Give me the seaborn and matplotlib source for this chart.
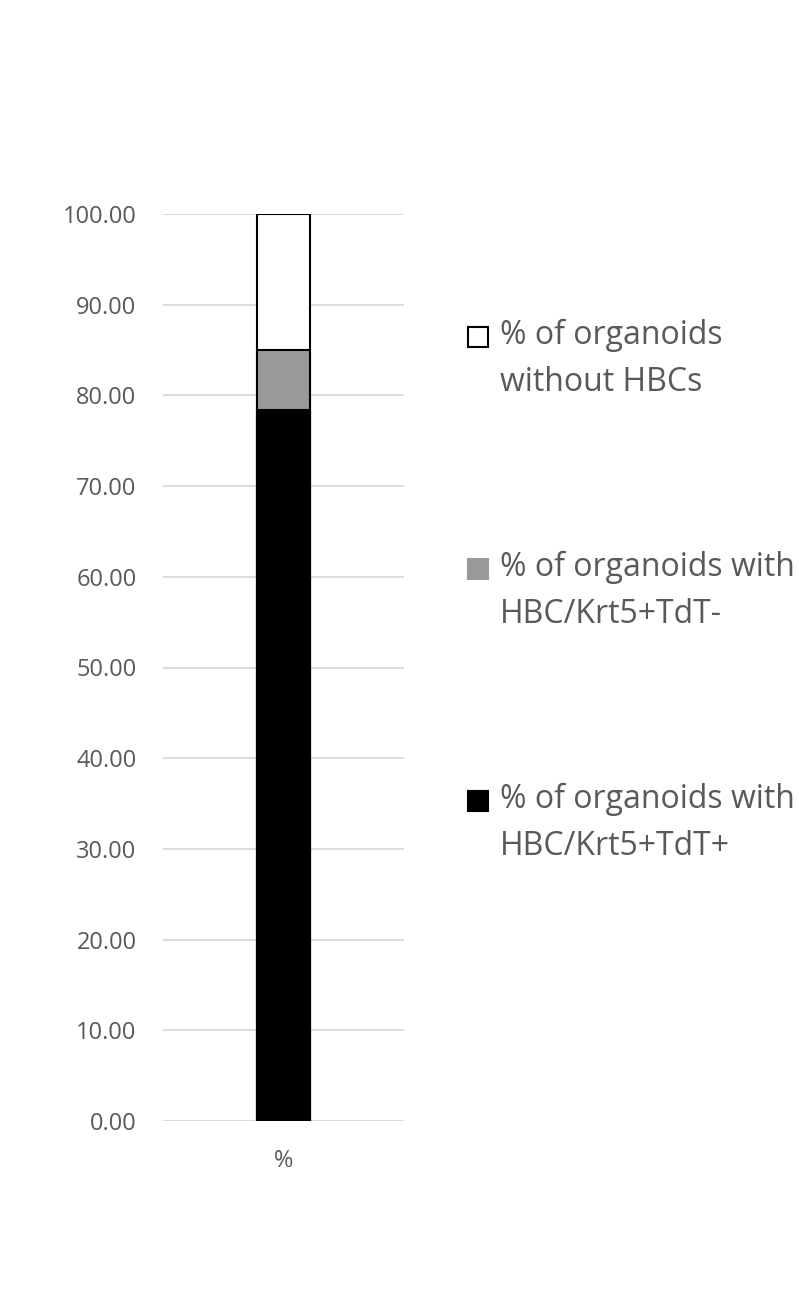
import matplotlib
matplotlib.use("Agg")
import matplotlib.pyplot as plt
import seaborn as sns
import pandas as pd
from matplotlib.patches import Rectangle

categories = ["%"]
tdt_pos = [78.4]
tdt_neg = [6.6]
no_hbc = [15.0]
series_labels = ["% of organoids\nwithout HBCs",
                 "% of organoids with\nHBC/Krt5+TdT-",
                 "% of organoids with\nHBC/Krt5+TdT+"]
series_colors = ["#ffffff", "#999999", "#000000"]
yticks = [0, 10, 20, 30, 40, 50, 60, 70, 80, 90, 100]

sns.set_theme(style="white")
plt.rcParams["font.family"] = ["Open Sans", "DejaVu Sans"]

fig = plt.figure(figsize=(7.99, 13.04), dpi=100)
ax = fig.add_axes([163/799, 1 - 1121/1304, 241/799, (1121 - 214)/1304])

df = pd.DataFrame({"cat": categories, "pos": tdt_pos, "neg": tdt_neg, "none": no_hbc})
df["c1"] = df["pos"]
df["c2"] = df["pos"] + df["neg"]
df["c3"] = df["c2"] + df["none"]

gray_txt = "#595959"
for col, color in [("c3", series_colors[0]), ("c2", series_colors[1]), ("c1", series_colors[2])]:
    sns.barplot(data=df, x="cat", y=col, color=color, edgecolor="black",
                linewidth=1.5, width=0.224, ax=ax, saturation=1)

ax.set_ylim(0, 100)
ax.set_xlim(-0.5, 0.5)
ax.set_yticks(yticks)
ax.set_yticklabels([f"{v:.2f}" for v in yticks])
ax.yaxis.grid(True, color="#d9d9d9", linewidth=1.3)
ax.set_axisbelow(True)
for s in ax.spines.values():
    s.set_visible(False)
ax.tick_params(axis="both", length=0, labelsize=17, colors=gray_txt)
ax.tick_params(axis="y", pad=19)
ax.tick_params(axis="x", pad=20)
ax.set_xlabel("")
ax.set_ylabel("")

# legend (manual, handle aligned with first line)
leg_y = [337, 569, 801]
for lab, col, yc in zip(series_labels, series_colors, leg_y):
    ec = "black" if col == "#ffffff" else col
    fig.patches.append(Rectangle((468/799, 1 - (yc + 10)/1304), 20/799, 20/1304,
                                 transform=fig.transFigure, facecolor=col,
                                 edgecolor=ec, linewidth=1.5))
    fig.text(500/799, 1 - (yc - 18)/1304, lab, fontsize=23, color=gray_txt,
             va="top", ha="left", linespacing=1.55)

fig.savefig("out.png", dpi=100, facecolor="white")
